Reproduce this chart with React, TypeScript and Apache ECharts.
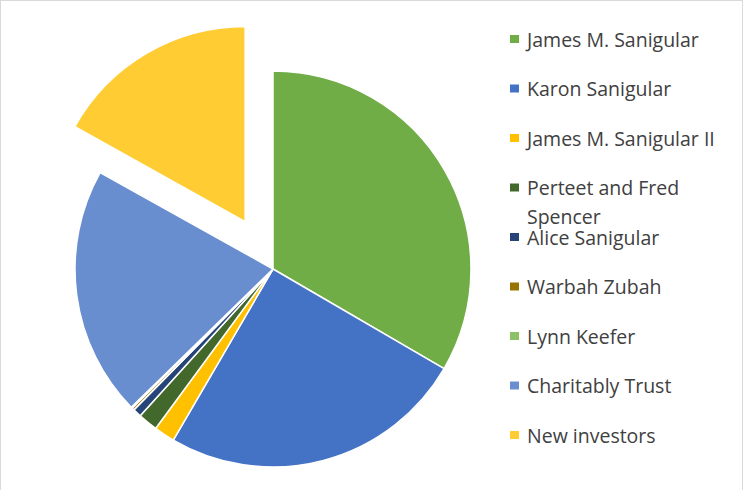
import React, { useEffect, useRef } from "react";
import * as echarts from "echarts";

const names = [
  "James M. Sanigular",
  "Karon Sanigular",
  "James M. Sanigular II",
  "Perteet and Fred Spencer",
  "Alice Sanigular",
  "Warbah Zubah",
  "Lynn Keefer",
  "Charitably Trust",
  "New investors",
];
const values = [33.4, 25.0, 1.7, 1.6, 0.7, 0.2, 0.1, 20.4, 16.9];
const colors = [
  "#70AD47",
  "#4472C4",
  "#FFC000",
  "#43682B",
  "#264478",
  "#997300",
  "#8CC168",
  "#698ED0",
  "#FFCD33",
];
const explodedName = "New investors";

export default function App() {
  const ref = useRef<HTMLDivElement>(null);
  useEffect(() => {
    if (!ref.current) return;
    const chart = echarts.init(ref.current, undefined, { renderer: "svg" });
    const cx = 273;
    const cy = 269;
    const r = 198;
    const explodeDist = 55;
    const total = values.reduce((a, b) => a + b, 0);
    const idx = names.indexOf(explodedName);
    const before = values.slice(0, idx).reduce((a, b) => a + b, 0);
    const midFrac = (before + values[idx] / 2) / total;
    const ang = midFrac * Math.PI * 2;
    const ex = cx + Math.sin(ang) * explodeDist;
    const ey = cy - Math.cos(ang) * explodeDist;

    const mainData = names.map((n, i) => ({
      name: n,
      value: values[i],
      itemStyle:
        n === explodedName
          ? { color: "rgba(0,0,0,0)", borderWidth: 0 }
          : { color: colors[i] },
    }));
    const exData = names.map((n, i) => ({
      name: n,
      value: values[i],
      itemStyle:
        n === explodedName
          ? { color: colors[i] }
          : { color: "rgba(0,0,0,0)", borderWidth: 0 },
    }));

    const fontSize = 19.5;
    const legendTop0 = 29;
    const legendGap = 49.5;
    const legends = names.map((n, i) => ({
      show: true,
      orient: "vertical",
      left: 510,
      top: legendTop0 + i * legendGap,
      padding: 0,
      itemWidth: 9,
      itemHeight: 8,
      itemGap: 0,
      icon: "rect",
      selectedMode: false,
      data: [{ name: n, itemStyle: { color: colors[i], borderWidth: 0 } }],
      formatter: (name: string) =>
        name === "Perteet and Fred Spencer" ? "Perteet and Fred" : name,
      textStyle: {
        fontFamily: "Open Sans",
        fontSize,
        lineHeight: 20,
        color: "#404040",
        padding: [0, 0, 0, 3],
      },
    }));

    chart.setOption({
      animation: false,
      backgroundColor: "#ffffff",
      legend: legends,
      graphic: [
        {
          type: "text",
          x: 527,
          y: 216.5,
          style: {
            text: "Spencer",
            fontFamily: "Open Sans",
            fontSize,
            lineHeight: 19,
            fill: "#404040",
            textAlign: "left",
            textVerticalAlign: "middle",
            verticalAlign: "middle",
          },
        },
        { type: "line", shape: { x1: 0, y1: 0.5, x2: 743, y2: 0.5 }, style: { stroke: "#d9d9d9", lineWidth: 1 } },
        { type: "line", shape: { x1: 0.5, y1: 0, x2: 0.5, y2: 490 }, style: { stroke: "#d9d9d9", lineWidth: 1 } },
        { type: "line", shape: { x1: 742.5, y1: 0, x2: 742.5, y2: 490 }, style: { stroke: "#d9d9d9", lineWidth: 1 } },
      ],
      series: [
        {
          type: "pie",
          center: [cx, cy],
          radius: [0, r],
          startAngle: 90,
          clockwise: true,
          label: { show: false },
          labelLine: { show: false },
          emphasis: { disabled: true },
          itemStyle: { borderColor: "#ffffff", borderWidth: 1.5 },
          data: mainData,
        },
        {
          type: "pie",
          center: [ex, ey],
          radius: [0, 195],
          startAngle: 90,
          clockwise: true,
          silent: true,
          legendHoverLink: false,
          label: { show: false },
          labelLine: { show: false },
          emphasis: { disabled: true },
          itemStyle: { borderColor: "#ffffff", borderWidth: 1.5 },
          data: exData,
        },
      ],
    });
    return () => chart.dispose();
  }, []);
  return (
    <div
      ref={ref}
      style={{ position: "fixed", left: 0, top: 0, width: 745, height: 490 }}
    />
  );
}
